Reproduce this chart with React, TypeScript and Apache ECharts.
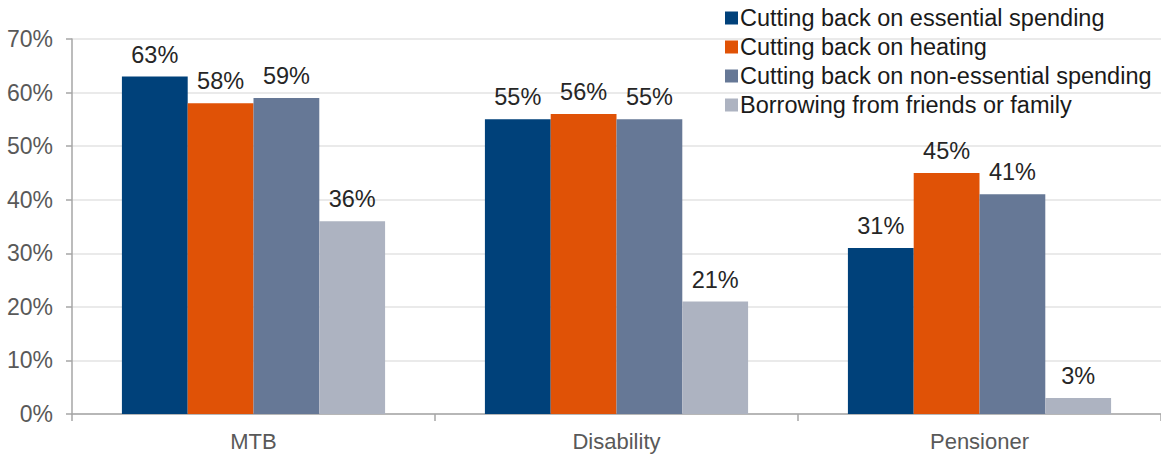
import React, { useEffect, useRef } from "react";
import * as echarts from "echarts";

const categories = ["MTB", "Disability", "Pensioner"];
const seriesNames = [
  "Cutting back on essential spending",
  "Cutting back on heating",
  "Cutting back on non-essential spending",
  "Borrowing from friends or family",
];
const essential = [63, 55, 31];
const heating = [58, 56, 45];
const nonEssential = [59, 55, 41];
const borrowing = [36, 21, 3];
const colors = ["#00417a", "#e05206", "#667896", "#adb3c1"];
const yTicks = [0, 10, 20, 30, 40, 50, 60, 70];

export default function App() {
  const ref = useRef<HTMLDivElement>(null);
  useEffect(() => {
    if (!ref.current) return;
    const chart = echarts.init(ref.current, undefined, { renderer: "svg" });
    const font = "'Liberation Sans', Arial, sans-serif";
    const data = [essential, heating, nonEssential, borrowing];
    chart.setOption({
      animation: false,
      textStyle: { fontFamily: font },
      grid: { left: 72, right: 0, top: 39, bottom: 42 },
      legend: {
        orient: "vertical",
        left: 720,
        top: 1,
        itemWidth: 13,
        itemHeight: 13,
        itemGap: 5,
        icon: "rect",
        textStyle: {
          fontSize: 23.5,
          lineHeight: 23,
          color: "#1a1a1a",
          fontFamily: font,
          padding: [0, 0, 0, -3],
        },
        data: seriesNames,
      },
      xAxis: {
        type: "category",
        data: categories,
        axisLine: { lineStyle: { color: "#a6a6a6", width: 1.5 } },
        axisTick: { show: true, length: 7, lineStyle: { color: "#a6a6a6", width: 1.5 } },
        axisLabel: { fontSize: 22, color: "#595959", margin: 16, fontFamily: font },
      },
      yAxis: {
        type: "value",
        min: 0,
        max: 70,
        interval: 10,
        axisLine: { show: true, lineStyle: { color: "#a6a6a6", width: 1.5 } },
        axisTick: { show: true, length: 6, lineStyle: { color: "#a6a6a6", width: 1.5 } },
        splitLine: { lineStyle: { color: "#e3e3e3", width: 1.5 } },
        axisLabel: {
          fontSize: 23,
          color: "#595959",
          margin: 19,
          fontFamily: font,
          formatter: (v: number) => (yTicks.includes(v) ? v + "%" : ""),
        },
      },
      series: seriesNames.map((name, i) => ({
        name,
        type: "bar",
        data: data[i],
        barGap: "0%",
        barCategoryGap: "27.5%",
        itemStyle: { color: colors[i] },
        label: {
          show: true,
          position: "top",
          distance: 10,
          formatter: "{c}%",
          fontSize: 23.5,
          color: "#262626",
          fontFamily: font,
        },
      })),
    });
    return () => chart.dispose();
  }, []);
  return (
    <div
      ref={ref}
      style={{ position: "fixed", left: 0, top: 0, width: 1161, height: 456, background: "#fff" }}
    />
  );
}
